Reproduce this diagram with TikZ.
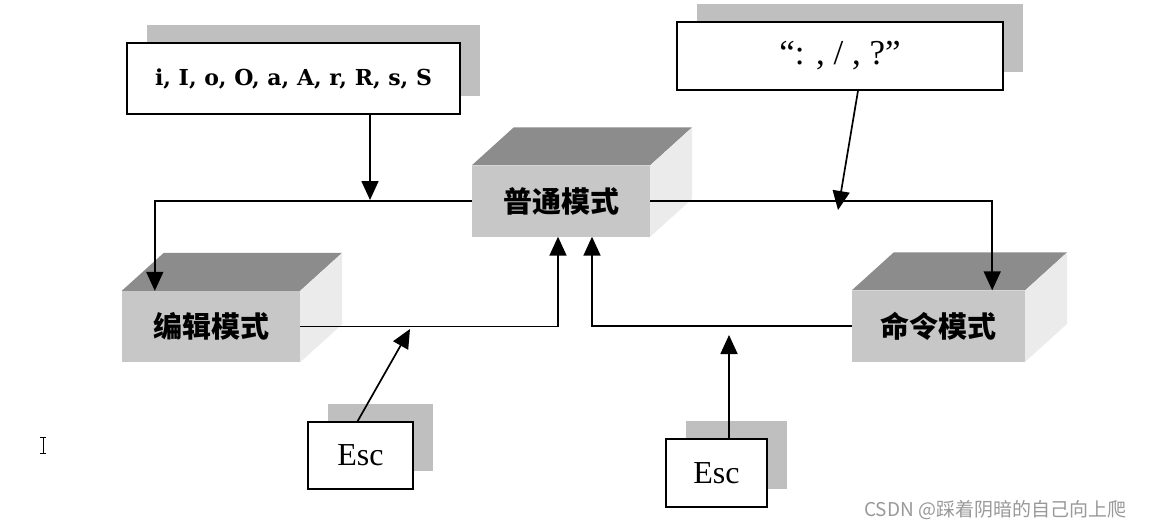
\documentclass[tikz,border=0pt]{standalone}
\usepackage{fontspec}
\setmainfont{Liberation Serif}
\newfontfamily\cjk{Noto Sans CJK SC}
\newfontfamily\dvs{DejaVu Serif}
\usetikzlibrary{arrows.meta,shadows,calc}
\tikzset{
  arr/.style={line width=1.7pt,-{Triangle[length=19pt,width=17pt]}},
  face/.style={fill=black!22,inner sep=0pt,minimum width=178pt,minimum height=71pt,
    font=\cjk\bfseries\fontsize{29}{32}\selectfont},
  topc/.style={fill=black!45},
  sidec/.style={fill=black!8},
  keybox/.style={draw,line width=1.3pt,fill=white,inner sep=0pt,
    general shadow={shadow xshift=20pt,shadow yshift=18pt,fill=black!25}},
}
\newcommand{\blockfaces}[1]{%
  \fill[topc] (#1.north west) -- ++(42,-38) -- ($(#1.north east)+(42,-38)$) -- (#1.north east) -- cycle;
  \fill[sidec] (#1.north east) -- ++(42,-38) -- ($(#1.south east)+(42,-38)$) -- (#1.south east) -- cycle;
}
\begin{document}
\begin{tikzpicture}[x=1pt,y=-1pt]
\fill[white] (0,0) rectangle (1150,528);
\useasboundingbox (0,0) rectangle (1150,528);

% 3D blocks
\node[face] (normal) at (561,201) {\raisebox{-5pt}{普通模式}};
\node[face] (edit) at (211,326.5) {\raisebox{-5pt}{编辑模式}};
\node[face,minimum width=173pt] (cmd) at (938.5,326) {\raisebox{-5pt}{命令模式}};
\blockfaces{normal}
\blockfaces{edit}
\blockfaces{cmd}

% key boxes
\node[keybox,minimum width=333pt,minimum height=71pt,font=\dvs\bfseries\fontsize{22}{26}\selectfont]
  (keys) at (293.5,78.5) {\raisebox{-4pt}{i, I, o, O, a, A, r, R, s, S}};
\node[keybox,minimum width=326pt,minimum height=68pt,font=\fontsize{35}{38}\selectfont]
  (cmds) at (840,56) {\raisebox{-6pt}{“: , / , ?”}};
\node[keybox,minimum width=105pt,minimum height=67pt,font=\fontsize{32}{36}\selectfont]
  (esc1) at (360.5,455.5) {\raisebox{-3pt}{Esc}};
\node[keybox,minimum width=101pt,minimum height=68pt,font=\fontsize{32}{36}\selectfont]
  (esc2) at (716.5,473) {\raisebox{-3pt}{Esc}};

% connectors
\coordinate (k1) at (370,200);
\coordinate (c1) at (838,210);
\coordinate (e1) at (410,329);
\coordinate (e2) at (729,335);

\draw[arr] (normal.west) -| ([xshift=33pt]edit.north west);
\draw[arr] (normal.east) -| ([xshift=-33pt]cmd.north east);
\draw[arr] (edit.east) -| ([xshift=-3pt]normal.south);
\draw[arr] (cmd.west) -| ([xshift=31pt]normal.south);
\draw[arr] (k1 |- keys.south) -- (k1);
\draw[arr] ([xshift=18pt]cmds.south) -- (c1);
\draw[arr] ([xshift=-3pt]esc1.north) -- (e1);
\draw[arr] (e2 |- esc2.north) -- (e2);

% text cursor
\draw[line width=1pt] (43,437) -- (43,453) (40,437) -- (46,437) (40,453) -- (46,453);

% watermark
\node[anchor=west,text=black!40,inner sep=0pt,font=\cjk\fontsize{19}{22}\selectfont]
  (wm) at (864,510) {CSDN @踩着阴暗的自己向上爬};
\end{tikzpicture}
\end{document}
